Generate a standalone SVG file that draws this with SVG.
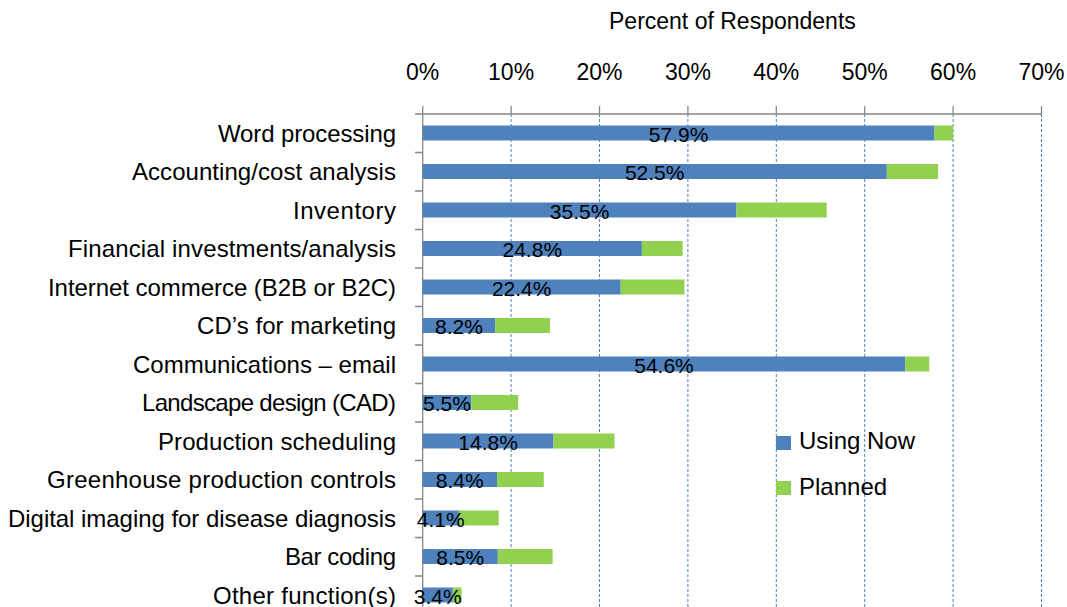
<svg xmlns="http://www.w3.org/2000/svg" width="1067" height="607" viewBox="0 0 1067 607">
<style>
text{font-family:"Liberation Sans",Arial,sans-serif;fill:#000}
.cat{font-size:24px;text-anchor:end}
.tick{font-size:23px;text-anchor:middle}
.val{font-size:21px;text-anchor:middle}
.grid{stroke:#4F81BD;stroke-width:1;stroke-dasharray:3,2}
.ax{stroke:#868686;stroke-width:1.3;fill:none}
.use{fill:#4F81BD}
.plan{fill:#92D050}
</style>
<rect width="1067" height="607" fill="#fff"/>
<text class="tick" x="732.4" y="29" font-size="23.5px">Percent of Respondents</text>
<g id="xlabels">
<text class="tick" x="422.7" y="79.5">0%</text>
<text class="tick" x="511.1" y="79.5">10%</text>
<text class="tick" x="599.5" y="79.5">20%</text>
<text class="tick" x="687.9" y="79.5">30%</text>
<text class="tick" x="776.3" y="79.5">40%</text>
<text class="tick" x="864.7" y="79.5">50%</text>
<text class="tick" x="953.1" y="79.5">60%</text>
<text class="tick" x="1041.5" y="79.5">70%</text>
</g>
<g id="grid">
<line class="grid" x1="511.1" y1="114" x2="511.1" y2="607"/>
<line class="grid" x1="599.5" y1="114" x2="599.5" y2="607"/>
<line class="grid" x1="687.9" y1="114" x2="687.9" y2="607"/>
<line class="grid" x1="776.3" y1="114" x2="776.3" y2="607"/>
<line class="grid" x1="864.7" y1="114" x2="864.7" y2="607"/>
<line class="grid" x1="953.1" y1="114" x2="953.1" y2="607"/>
<line class="grid" x1="1041.5" y1="114" x2="1041.5" y2="607"/>
</g>
<g id="axes">
<path class="ax" d="M415 114H1041.5M422.7 106V607"/>
<path class="ax" d="M511.1 106V114M599.5 106V114M687.9 106V114M776.3 106V114M864.7 106V114M953.1 106V114M1041.5 106V114"/>
<path class="ax" d="M415 152.5H422.7M415 191H422.7M415 229.5H422.7M415 268H422.7M415 306.5H422.7M415 345H422.7M415 383.5H422.7M415 422H422.7M415 460.5H422.7M415 499H422.7M415 537.5H422.7M415 576H422.7"/>
</g>
<g id="row-word-processing">
<rect class="use" x="422.7" y="125.5" width="511.8" height="15"/><rect class="plan" x="934.5" y="125.5" width="18.6" height="15"/>
<text class="cat" x="396" y="141.5" textLength="178">Word processing</text><text class="val" x="678.6" y="141.5">57.9%</text>
</g>
<g id="row-accounting">
<rect class="use" x="422.7" y="164" width="464.1" height="15"/><rect class="plan" x="886.8" y="164" width="51.3" height="15"/>
<text class="cat" x="396" y="180" textLength="264">Accounting/cost analysis</text><text class="val" x="654.7" y="180">52.5%</text>
</g>
<g id="row-inventory">
<rect class="use" x="422.7" y="202.5" width="313.8" height="15"/><rect class="plan" x="736.5" y="202.5" width="90.2" height="15"/>
<text class="cat" x="396" y="218.5" textLength="103">Inventory</text><text class="val" x="579.6" y="218.5">35.5%</text>
</g>
<g id="row-financial">
<rect class="use" x="422.7" y="241" width="219.2" height="15"/><rect class="plan" x="641.9" y="241" width="40.7" height="15"/>
<text class="cat" x="396" y="257" textLength="328">Financial investments/analysis</text><text class="val" x="532.3" y="257">24.8%</text>
</g>
<g id="row-internet">
<rect class="use" x="422.7" y="279.5" width="198" height="15"/><rect class="plan" x="620.7" y="279.5" width="63.7" height="15"/>
<text class="cat" x="396" y="295.5" textLength="348">Internet commerce (B2B or B2C)</text><text class="val" x="521.7" y="295.5">22.4%</text>
</g>
<g id="row-cds">
<rect class="use" x="422.7" y="318" width="72.5" height="15"/><rect class="plan" x="495.2" y="318" width="54.8" height="15"/>
<text class="cat" x="396" y="334" textLength="199">CD’s for marketing</text><text class="val" x="458.9" y="334">8.2%</text>
</g>
<g id="row-email">
<rect class="use" x="422.7" y="356.5" width="482.7" height="15"/><rect class="plan" x="905.4" y="356.5" width="23.8" height="15"/>
<text class="cat" x="396" y="372.5" textLength="263">Communications – email</text><text class="val" x="664" y="372.5">54.6%</text>
</g>
<g id="row-landscape">
<rect class="use" x="422.7" y="395" width="48.6" height="15"/><rect class="plan" x="471.3" y="395" width="46.9" height="15"/>
<text class="cat" x="396" y="411" textLength="254">Landscape design (CAD)</text><text class="val" x="447" y="411">5.5%</text>
</g>
<g id="row-production">
<rect class="use" x="422.7" y="433.5" width="130.8" height="15"/><rect class="plan" x="553.5" y="433.5" width="61" height="15"/>
<text class="cat" x="396" y="449.5" textLength="238">Production scheduling</text><text class="val" x="488.1" y="449.5">14.8%</text>
</g>
<g id="row-greenhouse">
<rect class="use" x="422.7" y="472" width="74.3" height="15"/><rect class="plan" x="497" y="472" width="46.8" height="15"/>
<text class="cat" x="396" y="488" textLength="349">Greenhouse production controls</text><text class="val" x="459.8" y="488">8.4%</text>
</g>
<g id="row-digital">
<rect class="use" x="422.7" y="510.5" width="36.2" height="15"/><rect class="plan" x="458.9" y="510.5" width="39.8" height="15"/>
<text class="cat" x="396" y="526.5" textLength="388">Digital imaging for disease diagnosis</text><text class="val" x="440.8" y="526.5">4.1%</text>
</g>
<g id="row-barcoding">
<rect class="use" x="422.7" y="549" width="75.1" height="15"/><rect class="plan" x="497.8" y="549" width="54.8" height="15"/>
<text class="cat" x="396" y="565" textLength="111">Bar coding</text><text class="val" x="460.2" y="565">8.5%</text>
</g>
<g id="row-other">
<rect class="use" x="422.7" y="587.5" width="30.1" height="15"/><rect class="plan" x="452.8" y="587.5" width="8.8" height="15"/>
<text class="cat" x="396" y="603.5" textLength="183">Other function(s)</text><text class="val" x="437.7" y="603.5">3.4%</text>
</g>
<g id="legend">
<rect class="use" x="776" y="436" width="15" height="14"/>
<text x="799" y="449" font-size="24px">Using Now</text>
<rect class="plan" x="776" y="481" width="15" height="14"/>
<text x="799" y="495" font-size="24px">Planned</text>
</g>
</svg>
